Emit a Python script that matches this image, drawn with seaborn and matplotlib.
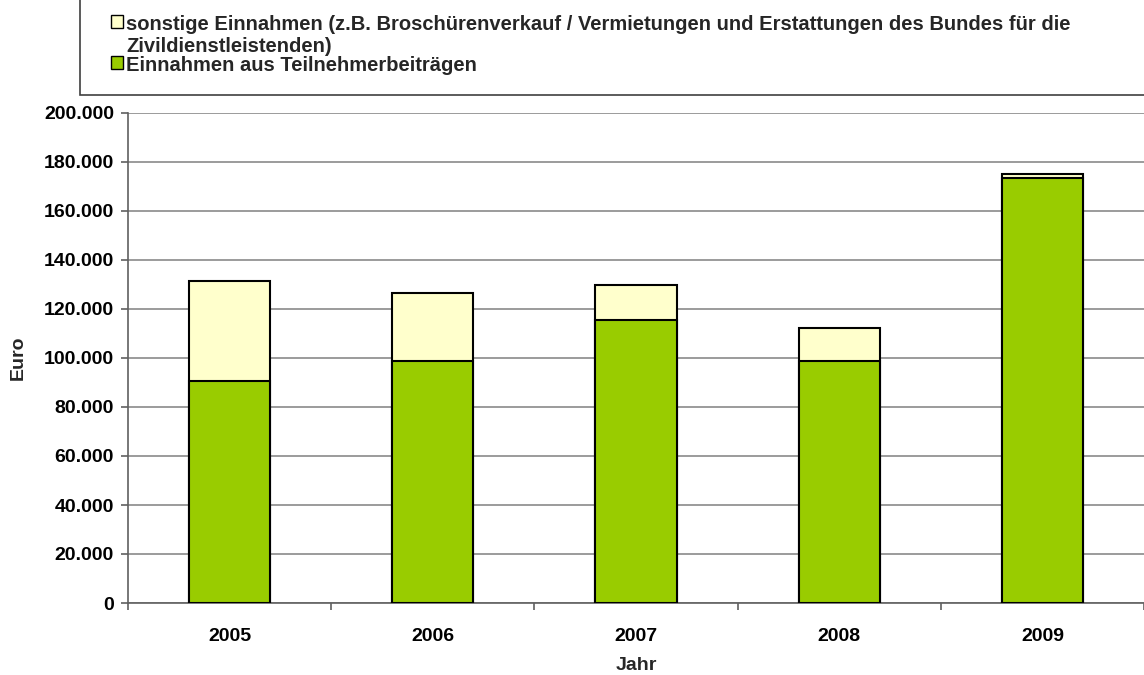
import matplotlib
matplotlib.use("Agg")
import matplotlib.pyplot as plt
from matplotlib.patches import Rectangle, Patch
from matplotlib.ticker import FuncFormatter, FixedLocator
import seaborn as sns
import pandas as pd

years = ["2005", "2006", "2007", "2008", "2009"]
teilnehmer = [90500, 98900, 115500, 98900, 173500]
sonstige = [41000, 27800, 14400, 13200, 1600]

label_sonstige = ("sonstige Einnahmen (z.B. Broschürenverkauf / Vermietungen und Erstattungen des Bundes für die\n"
                  "Zivildienstleistenden)")
label_teilnehmer = "Einnahmen aus Teilnehmerbeiträgen"

GREEN = "#99CC00"
YELLOW = "#FFFFCC"
FS = 14
LFS = 14.5

sns.set_theme(style="white")
plt.rcParams["font.family"] = ["Liberation Sans", "DejaVu Sans"]
plt.rcParams["font.weight"] = "bold"

df = pd.DataFrame({"Jahr": years, "green": teilnehmer,
                   "total": [a + b for a, b in zip(teilnehmer, sonstige)]})

fig = plt.figure(figsize=(11.44, 6.75), dpi=100)
ax = fig.add_axes([128 / 1144, 1 - 603 / 675, 1 - 128 / 1144, (603 - 113) / 675])

sns.barplot(data=df, x="Jahr", y="total", color=YELLOW, width=0.4, edgecolor="black",
            linewidth=1.5, saturation=1, ax=ax, zorder=3)
sns.barplot(data=df, x="Jahr", y="green", color=GREEN, width=0.4, edgecolor="black",
            linewidth=1.5, saturation=1, ax=ax, zorder=4)

ax.set_ylim(0, 200000)
ax.set_xlim(-0.5, 4.5)
ax.yaxis.set_major_locator(FixedLocator(range(0, 200001, 20000)))
ax.yaxis.set_major_formatter(FuncFormatter(lambda v, p: f"{int(v):,}".replace(",", ".")))
ax.yaxis.grid(True, color="#808080", linewidth=1.1, zorder=0)
ax.set_axisbelow(True)

for s in ["top", "right"]:
    ax.spines[s].set_visible(False)
for s in ["left", "bottom"]:
    ax.spines[s].set_color("#606060")
    ax.spines[s].set_linewidth(1.2)

ax.tick_params(axis="y", which="major", left=True, length=5, width=1.2, color="#606060",
               labelsize=FS, pad=5, labelcolor="black")
ax.tick_params(axis="x", which="major", bottom=False, labelsize=FS, pad=12, labelcolor="black")
ax.set_xticks([-0.5, 0.5, 1.5, 2.5, 3.5, 4.5], minor=True)
ax.tick_params(axis="x", which="minor", bottom=True, length=5, width=1.2, color="#606060")
for lab in ax.get_xticklabels() + ax.get_yticklabels():
    lab.set_fontweight("bold")

ax.set_xlabel("Jahr", fontsize=FS, fontweight="bold")
ax.xaxis.label.set_va("center")
ax.xaxis.set_label_coords(0.5, (603 - 665) / 490)
ax.set_ylabel("Euro", fontsize=FS, fontweight="bold")
ax.yaxis.label.set_va("center")
ax.yaxis.set_label_coords(-(128 - 18) / 1016, 0.5)

# legend box
fig.patches.append(Rectangle((80 / 1144, 1 - 95 / 675), 1.0, 95 / 675 + 0.01,
                             transform=fig.transFigure, facecolor="white",
                             edgecolor="#404040", linewidth=1.2))
handles = [Patch(facecolor=YELLOW, edgecolor="black", linewidth=1.0, label=label_sonstige),
           Patch(facecolor=GREEN, edgecolor="black", linewidth=1.0, label=label_teilnehmer)]
leg = fig.legend(handles=handles, loc="upper left", bbox_to_anchor=(103 / 1144, 1 - 7 / 675),
                 frameon=False, fontsize=LFS, handlelength=0.6, handleheight=0.6,
                 handletextpad=0.15, labelspacing=0.0, borderaxespad=0)
for t in leg.get_texts():
    t.set_fontweight("bold")
    t.set_linespacing(1.2)
# align the marker squares with the first line of each label
try:
    for col in leg._legend_handle_box.get_children():
        for hp in col.get_children():
            hp.align = "top"
except Exception:
    pass

fig.savefig("out.png", dpi=100)
